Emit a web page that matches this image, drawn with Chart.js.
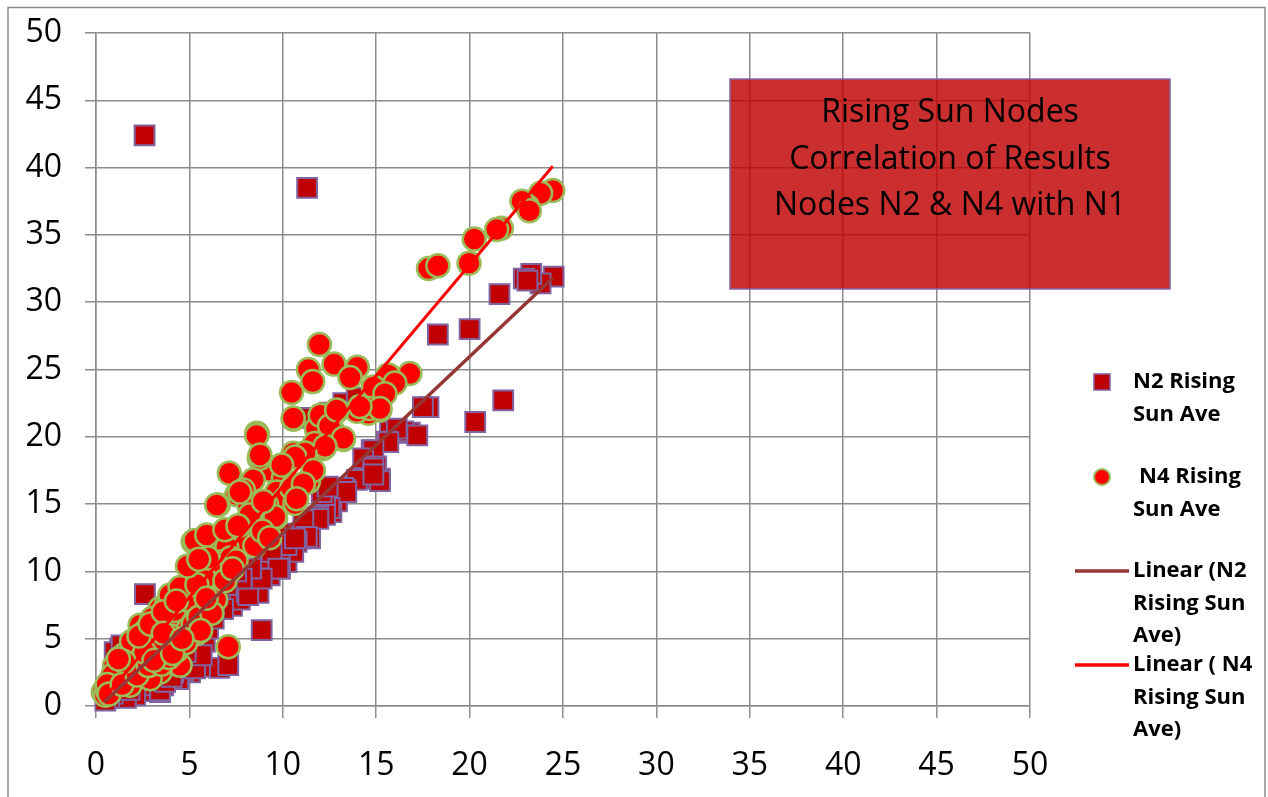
<!DOCTYPE html>
<html>
<head>
<meta charset="utf-8">
<title>Rising Sun Nodes</title>
<script src="https://cdn.jsdelivr.net/npm/chart.js@4.4.1/dist/chart.umd.min.js"></script>
<style>
  html, body { margin: 0; padding: 0; background: #fff; }
  #wrap { width: 1268px; height: 797px; }
</style>
</head>
<body>
<div id="wrap"><canvas id="chart" width="1268" height="797"></canvas></div>
<script>
// Rising Sun nodes: N2 and N4 readings against N1 (x), with linear trendlines.
const TITLE_LINES = ["Rising Sun Nodes", "Correlation of Results", "Nodes N2 & N4 with N1"];
const X_TICKS = [0, 5, 10, 15, 20, 25, 30, 35, 40, 45, 50];
const Y_TICKS = [0, 5, 10, 15, 20, 25, 30, 35, 40, 45, 50];

// [N1, N2]
const n2Points = [
  [2.6, 42.4], [11.3, 38.5],
  [24.5, 31.9], [23.8, 31.4], [23.3, 32.1], [22.9, 31.75], [23.1, 31.6], [21.6, 30.6], [20.0, 28.0], [18.3, 27.6],
  [21.8, 22.7], [20.3, 21.1], [17.8, 22.2], [17.5, 22.2],
  [16.8, 20.3], [16.45, 20.4], [15.74, 20.4], [16.1, 20.6], [15.56, 19.64], [15.65, 19.6], [14.76, 19.0], [14.85, 19.0],
  [14.3, 18.4], [15.2, 16.9], [15.0, 17.8], [14.85, 17.66], [14.4, 16.9], [14.13, 16.9], [13.96, 16.8], [13.33, 16.05],
  [13.24, 16.2], [12.9, 15.4], [12.9, 15.2], [13.4, 15.9], [12.6, 14.4], [12.5, 14.7], [12.26, 14.9], [12.26, 14.2],
  [11.9, 14.06], [11.9, 13.9], [11.46, 12.45], [10.9, 12.45], [11.1, 13.8], [11.28, 12.57], [10.74, 12.2], [10.2, 10.7],
  [10.56, 11.46], [9.85, 11.7], [9.05, 12.45], [8.78, 10.2], [9.3, 9.7], [10.0, 12.8], [12.08, 15.9], [12.4, 16.3],
  [11.46, 21.4], [13.24, 22.5], [13.96, 22.9], [12.5, 21.8], [15.2, 16.7], [14.85, 17.2], [17.2, 20.1],
  [7.28, 7.44], [7.9, 8.5], [8.7, 8.4], [8.87, 5.63], [6.6, 2.83], [7.08, 3.03], [5.57, 2.9], [5.03, 2.5],
  [7.08, 8.2], [7.7, 7.9], [8.07, 8.5], [8.6, 9.7], [6.8, 7.2], [5.9, 6.0], [5.57, 4.5], [5.46, 5.0], [2.62, 8.31],
  [7.9, 8.98], [8.15, 8.24], [9.85, 10.2], [9.14, 10.96], [10.2, 11.96], [9.4, 11.46], [8.7, 12.45], [10.65, 12.45],
  [9.76, 10.2], [8.87, 9.47], [8.3, 10.2], [7.8, 9.47], [5.83, 4.76], [6.0, 5.75], [4.67, 2.65], [4.4, 2.0],
  [4.14, 2.5], [3.6, 1.54], [3.25, 1.29], [2.85, 1.1], [2.36, 1.54], [3.43, 1.04], [2.1, 0.8], [1.6, 0.6],
  [1.28, 4.26], [1.0, 4.0], [1.37, 4.5], [3.43, 1.17], [3.7, 1.8], [5.3, 2.8], [4.05, 2.16], [5.66, 3.77],
  [3.0, 3.5], [3.5, 4.2], [4.0, 4.8], [4.5, 5.5], [5.0, 6.2], [5.5, 7.0], [6.0, 7.6], [6.5, 8.3], [7.0, 9.0],
  [7.5, 10.0], [6.3, 6.5], [4.8, 4.0], [3.8, 3.0], [2.5, 2.8], [2.0, 2.2], [1.5, 1.6], [1.2, 1.2], [0.9, 0.9],
  [0.7, 0.6], [0.5, 0.4], [0.8, 1.3], [1.1, 1.8], [1.8, 1.2], [2.7, 2.2], [3.2, 2.6]
];

// [N1, N4]
const n4Points = [
  [24.45, 38.3], [23.8, 38.1], [23.1, 37.1], [22.8, 37.5], [23.2, 36.8], [21.7, 35.5], [21.45, 35.4], [20.25, 34.7],
  [19.97, 32.9], [17.8, 32.5], [18.3, 32.7],
  [11.96, 26.85], [11.37, 25.0], [11.6, 24.1], [12.74, 25.4], [13.99, 25.16], [13.6, 24.4], [10.47, 23.3], [16.8, 24.7],
  [15.65, 24.6], [16.0, 24.0], [14.85, 23.7], [15.47, 23.2], [15.2, 22.0], [14.58, 21.75], [13.96, 21.9], [10.56, 21.3],
  [12.08, 21.6], [12.89, 21.9], [12.53, 21.1], [11.8, 20.6], [12.7, 20.4], [13.24, 19.8], [12.17, 19.14], [11.7, 19.5],
  [8.64, 20.2], [8.74, 18.4], [11.19, 18.77], [10.56, 18.77], [9.85, 17.66], [9.31, 17.54], [7.14, 17.3], [10.03, 16.9],
  [11.63, 17.5], [11.37, 16.67], [10.56, 16.4], [8.42, 16.8], [7.89, 16.05], [7.53, 15.7], [8.15, 15.05], [6.55, 14.93],
  [9.67, 15.9], [10.12, 15.4], [10.65, 15.05], [9.14, 14.93], [9.62, 13.99], [8.07, 13.76], [6.1, 12.2], [5.2, 12.2],
  [5.93, 11.46], [7.44, 12.3], [7.98, 11.95], [6.8, 11.95], [7.7, 15.9], [9.58, 14.06], [8.24, 14.2], [7.0, 11.8],
  [5.39, 10.2], [6.1, 10.34], [6.8, 9.97], [3.96, 8.1], [4.67, 8.24], [5.2, 7.5], [6.1, 8.5], [5.93, 7.0], [3.43, 7.24],
  [4.5, 6.87], [7.08, 4.4], [6.1, 8.73], [5.03, 7.0], [5.39, 5.38], [4.5, 3.03], [3.43, 2.53], [4.14, 5.75], [2.9, 4.76],
  [3.78, 7.5], [3.96, 8.24], [2.36, 6.0], [2.0, 4.5], [1.46, 3.77], [1.1, 2.78], [0.75, 1.79], [0.39, 1.04], [2.0, 2.53],
  [2.53, 3.52], [3.25, 3.77], [4.67, 6.25], [4.5, 7.74], [3.78, 4.26], [2.9, 2.03], [1.82, 1.54], [1.46, 2.28],
  [6.46, 14.93], [5.3, 12.3], [5.93, 12.7], [8.6, 20.26], [8.78, 18.4],
  [10.56, 21.4], [8.6, 20.1], [12.0, 21.6], [12.5, 20.8], [13.24, 19.9], [12.26, 19.3], [11.19, 18.8], [10.65, 18.5],
  [9.94, 17.9], [11.63, 17.5], [8.78, 18.65], [10.47, 16.2], [11.1, 16.5], [10.74, 15.4], [8.96, 15.2],
  [14.67, 22.1], [15.2, 22.1], [14.13, 22.25], [12.88, 22.0],
  [0.5, 0.8], [0.6, 1.2], [0.8, 1.5], [1.0, 1.9], [1.2, 2.2], [1.3, 2.9], [1.6, 2.8], [1.7, 3.4], [2.2, 3.6], [2.4, 4.2],
  [2.7, 4.8], [3.0, 5.2], [3.2, 5.9], [3.5, 6.3], [3.9, 6.6], [4.2, 7.1], [4.8, 7.9], [2.6, 5.5], [1.9, 4.8], [3.0, 6.5],
  [1.0, 3.0], [0.9, 2.3], [0.6, 1.6], [0.7, 0.9], [1.4, 1.6], [2.2, 2.3], [2.8, 3.0], [3.5, 3.1], [3.9, 3.6], [4.3, 4.1],
  [4.8, 4.7], [5.2, 6.1], [5.5, 6.6], [4.0, 5.2], [3.3, 4.6], [2.6, 4.0], [6.3, 9.6], [6.6, 10.7], [7.2, 11.0], [5.8, 9.5],
  [5.0, 9.1], [4.5, 8.8], [6.4, 7.9], [6.9, 9.3], [7.5, 10.8], [8.5, 11.9], [8.9, 13.0], [9.3, 12.5], [6.2, 6.9], [5.6, 5.6],
  [2.3, 5.2], [2.9, 6.1], [3.6, 7.0], [4.3, 7.8], [5.4, 9.0], [6.0, 11.0], [1.5, 3.3], [1.2, 3.5], [3.1, 3.4], [4.1, 3.9],
  [4.9, 10.4], [5.5, 10.9], [6.9, 13.1], [7.6, 13.4], [3.6, 5.4], [4.6, 5.0], [5.9, 8.0], [7.3, 10.2]
];

// trendline end points
const trendX = [0.45, 24.45];
const n2Trend = [0.3, 31.8];
const n4Trend = [0.6, 40.1];

const N2_FILL = "#c00000", N2_EDGE = "#8064a2";
const N4_FILL = "#ff0000", N4_EDGE = "#9bbb59";
const N2_LINE = "#953735", N4_LINE = "#ff0000";
const GRID = "#8c8c8c";
const FONT = "'Open Sans', 'Noto Sans', sans-serif";

const toXY = (pts) => pts.map((p) => ({ x: p[0], y: p[1] }));
const trend = (ys) => trendX.map((x, i) => ({ x, y: ys[i] }));

const LEGEND = [
  { kind: "rect", y: 382, lines: ["N2 Rising", "Sun Ave"], dx: [0, 0] },
  { kind: "circle", y: 477, lines: ["N4 Rising", "Sun Ave"], dx: [6, 0] },
  { kind: "line", color: N2_LINE, y: 571, lines: ["Linear (N2", "Rising Sun", "Ave)"], dx: [0, 0, 0] },
  { kind: "line", color: N4_LINE, y: 665, lines: ["Linear ( N4", "Rising Sun", "Ave)"], dx: [0, 0, 0] },
];

const decor = {
  id: "decor",
  beforeDraw(chart) {
    const ctx = chart.ctx;
    ctx.save();
    ctx.fillStyle = "#fff";
    ctx.fillRect(0, 0, chart.width, chart.height);
    ctx.strokeStyle = "#8c8c8c";
    ctx.lineWidth = 1.5;
    ctx.beginPath();
    ctx.moveTo(8, 800); ctx.lineTo(8, 7.5); ctx.lineTo(1265, 7.5); ctx.lineTo(1265, 800);
    ctx.stroke();
    ctx.restore();
  },
  afterDatasetsDraw(chart) {
    const ctx = chart.ctx;
    ctx.save();
    // title box, translucent so the grid shows through
    ctx.fillStyle = "rgba(192, 0, 0, 0.82)";
    ctx.fillRect(730, 79, 440, 210);
    ctx.strokeStyle = N2_EDGE;
    ctx.lineWidth = 1.5;
    ctx.strokeRect(730, 79, 440, 210);
    ctx.fillStyle = "#000";
    ctx.font = "32px " + FONT;
    ctx.textAlign = "center";
    ctx.textBaseline = "middle";
    TITLE_LINES.forEach((t, i) => ctx.fillText(t, 950, 113 + i * 46.5));
    ctx.restore();
  },
  afterDraw(chart) {
    const ctx = chart.ctx;
    ctx.save();
    LEGEND.forEach((it) => {
      if (it.kind === "rect") {
        ctx.fillStyle = N2_FILL;
        ctx.strokeStyle = N2_EDGE;
        ctx.lineWidth = 1.5;
        ctx.fillRect(1094, it.y - 8, 16, 16);
        ctx.strokeRect(1094, it.y - 8, 16, 16);
      } else if (it.kind === "circle") {
        ctx.fillStyle = N4_FILL;
        ctx.strokeStyle = N4_EDGE;
        ctx.lineWidth = 2;
        ctx.beginPath();
        ctx.arc(1102, it.y, 8, 0, Math.PI * 2);
        ctx.fill();
        ctx.stroke();
      } else {
        ctx.strokeStyle = it.color;
        ctx.lineWidth = 3.5;
        ctx.beginPath();
        ctx.moveTo(1075, it.y);
        ctx.lineTo(1129, it.y);
        ctx.stroke();
      }
      ctx.fillStyle = "#000";
      ctx.font = "bold 22px " + FONT;
      ctx.textAlign = "left";
      ctx.textBaseline = "middle";
      it.lines.forEach((t, i) => ctx.fillText(t, 1133 + it.dx[i], it.y + i * 32.5));
    });
    ctx.restore();
  },
};

const tickFont = { family: FONT, size: 32 };

new Chart(document.getElementById("chart"), {
  type: "scatter",
  data: {
    datasets: [
      {
        type: "line", label: "Linear (N2 Rising Sun Ave)", data: trend(n2Trend),
        borderColor: N2_LINE, borderWidth: 3.5, pointRadius: 0, fill: false, order: 0, clip: false,
      },
      {
        type: "line", label: "Linear ( N4 Rising Sun Ave)", data: trend(n4Trend),
        borderColor: N4_LINE, borderWidth: 3, pointRadius: 0, fill: false, order: 0, clip: false,
      },
      {
        label: "N4 Rising Sun Ave", data: toXY(n4Points), pointStyle: "circle",
        pointRadius: 11.5, backgroundColor: N4_FILL, borderColor: N4_EDGE, borderWidth: 2.5, order: 1, clip: false,
      },
      {
        label: "N2 Rising Sun Ave", data: toXY(n2Points), pointStyle: "rect",
        pointRadius: 14, backgroundColor: N2_FILL, borderColor: N2_EDGE, borderWidth: 2, order: 2, clip: false,
      },
    ],
  },
  options: {
    responsive: false,
    animation: false,
    layout: { padding: { left: 0, top: 33, right: 238, bottom: 0 } },
    plugins: { legend: { display: false }, tooltip: { enabled: false } },
    scales: {
      x: {
        type: "linear", min: 0, max: 50,
        afterBuildTicks: (s) => { s.ticks = X_TICKS.map((v) => ({ value: v })); },
        afterFit: (s) => { s.height = 91; s.paddingLeft = 0; s.paddingRight = 0; },
        ticks: { color: "#000", font: tickFont, padding: 29, maxRotation: 0 },
        grid: { color: GRID, lineWidth: 1.5, tickLength: 12, tickColor: GRID },
        border: { color: GRID, width: 1.5 },
      },
      y: {
        type: "linear", min: 0, max: 50,
        afterBuildTicks: (s) => { s.ticks = Y_TICKS.map((v) => ({ value: v })); },
        afterFit: (s) => { s.width = 96; s.paddingTop = 0; s.paddingBottom = 0; },
        ticks: { color: "#000", font: tickFont, padding: 23 },
        grid: { color: GRID, lineWidth: 1.5, tickLength: 11, tickColor: GRID },
        border: { color: GRID, width: 1.5 },
      },
    },
  },
  plugins: [decor],
});
</script>
</body>
</html>
